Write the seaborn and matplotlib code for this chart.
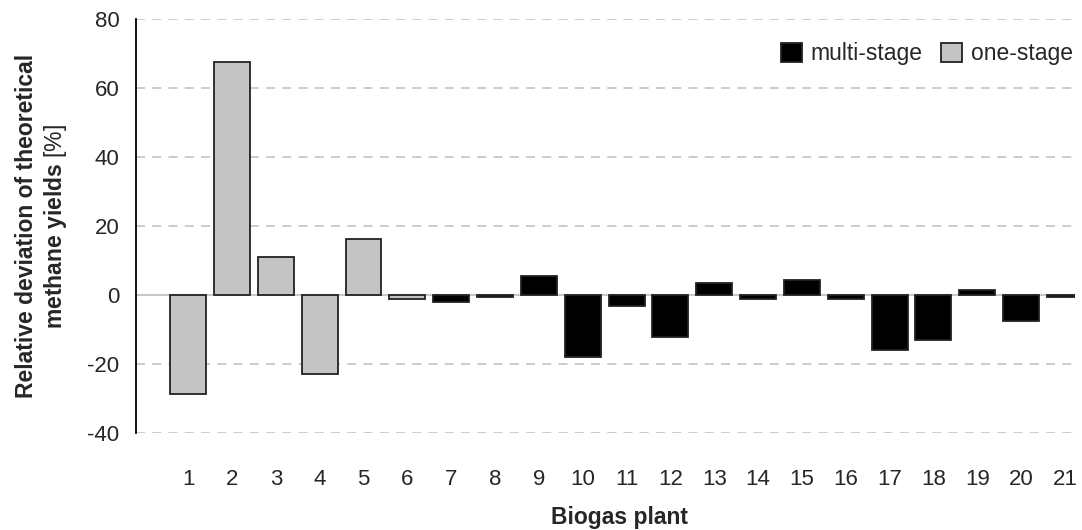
import matplotlib
matplotlib.use("Agg")
import matplotlib.pyplot as plt
import seaborn as sns
import pandas as pd

sns.set_style("white")
plt.rcParams["font.family"] = ["Liberation Sans", "DejaVu Sans"]
plt.rcParams["axes.unicode_minus"] = False
plt.rcParams["mathtext.fontset"] = "custom"
plt.rcParams["mathtext.rm"] = "Liberation Sans"

plants = [str(i) for i in range(1, 22)]
deviation = [-28.8, 67.5, 11.0, -22.9, 16.2, -1.2, -2.0, -0.7, 5.5, -17.9, -3.1,
             -12.3, 3.4, -1.1, 4.3, -1.1, -16.0, -13.1, 1.5, -7.5, -0.6]
stage = ["one-stage"] * 6 + ["multi-stage"] * 15

df = pd.DataFrame({"plant": plants, "deviation": deviation, "stage": stage})

fig = plt.figure(figsize=(10.82, 5.3), dpi=100)
ax = fig.add_axes([0.1257, 0.183, 0.8678, 0.781])

# gridlines behind bars
for y in [-40, -20, 20, 40, 60, 80]:
    ax.axhline(y, color="#c8c8c8", lw=1.3, ls=(0, (5, 4)), zorder=0)
ax.axhline(0, color="#c8c8c8", lw=1.5, zorder=0)

sns.barplot(data=df, x="plant", y="deviation", hue="stage", order=plants,
            hue_order=["multi-stage", "one-stage"],
            palette={"multi-stage": "black", "one-stage": "#c4c4c4"},
            dodge=False, width=0.82, edgecolor="#222222", linewidth=1.3,
            ax=ax, zorder=2)

ax.set_ylim(-40, 80)
ax.set_xlim(-1.19, 20.23)
ax.set_yticks([-40, -20, 0, 20, 40, 60, 80])
ax.tick_params(axis="y", direction="out", length=7, width=1.3, labelsize=16, color="black", pad=5)
ax.tick_params(axis="x", length=0, labelsize=16, pad=26)

for s in ["top", "right", "bottom"]:
    ax.spines[s].set_visible(False)
ax.spines["left"].set_linewidth(1.3)
ax.spines["left"].set_color("black")

ax.set_xlabel("Biogas plant", fontsize=16.5, fontweight="bold")
ax.xaxis.set_label_coords(0.515, -0.177)
ax.set_ylabel("Relative deviation of theoretical\nmethane yields $\\mathrm{[\\%]}$",
              fontsize=16.5, fontweight="bold", labelpad=13)

leg = ax.legend(loc="upper right", frameon=False, ncol=2, fontsize=16.5,
                handlelength=0.9, handleheight=0.9, columnspacing=0.8,
                handletextpad=0.4, borderaxespad=0, bbox_to_anchor=(1.0075, 0.966))
for h in leg.legend_handles:
    h.set_edgecolor("#222222")

fig.savefig("out.png", dpi=100)
